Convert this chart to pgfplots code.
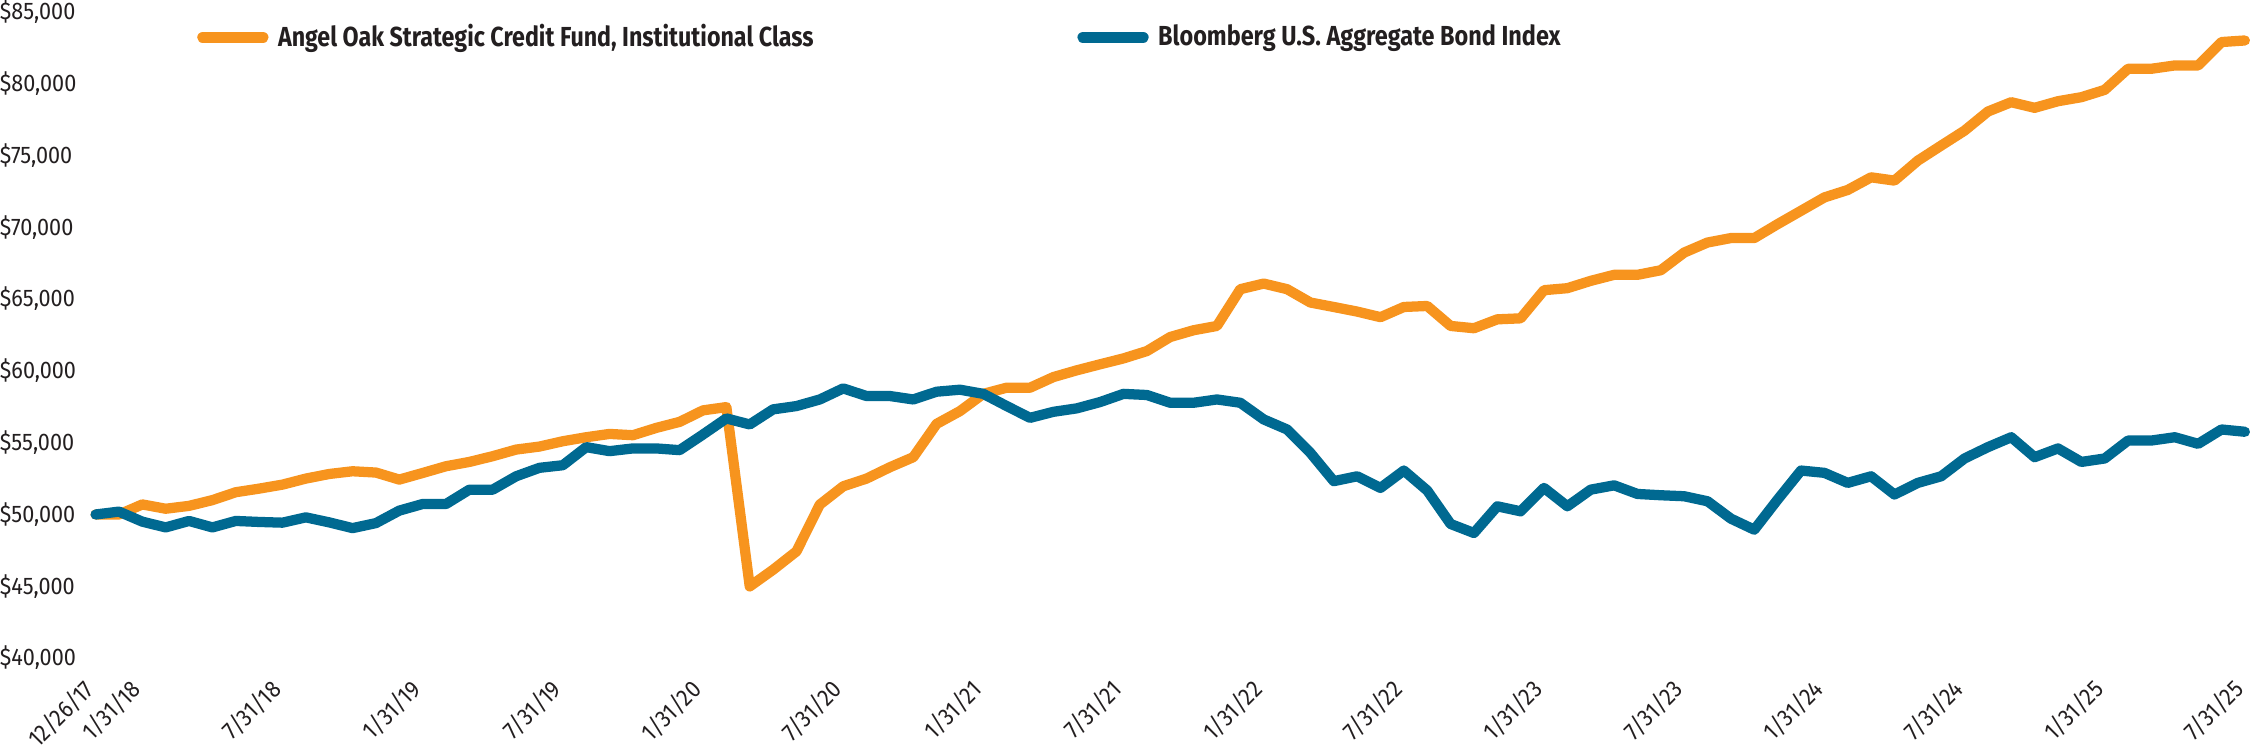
\documentclass[border=0pt]{standalone}
\usepackage{fontspec}
\setmainfont{Fira Sans}
\newfontfamily\tickfont{Fira Sans}[FakeStretch=0.9]
\usepackage{graphicx}
\usepackage{pgfplots}
\usepackage{pgfplotstable}
\pgfplotsset{compat=1.18}

\definecolor{aoorange}{RGB}{247,148,30}
\definecolor{bbblue}{RGB}{0,105,145}
\definecolor{txt}{RGB}{35,31,32}

% growth of $50,000: idx 0 = 12/26/17, 1 = 12/31/17, then month ends to 7/31/25
\pgfplotstableread{
idx fund agg
0 50000 50000
1 50000 50200
2 50700 49500
3 50400 49100
4 50600 49550
5 51000 49100
6 51550 49550
7 51800 49480
8 52080 49430
9 52500 49800
10 52820 49450
11 53010 49050
12 52920 49400
13 52430 50270
14 52890 50730
15 53360 50730
16 53660 51730
17 54060 51730
18 54520 52660
19 54730 53250
20 55100 53430
21 55380 54690
22 55610 54410
23 55520 54600
24 56030 54600
25 56450 54480
26 57250 55570
27 57480 56690
28 44990 56270
29 46150 57320
30 47430 57550
31 50690 58010
32 51960 58780
33 52500 58250
34 53290 58250
35 53990 58010
36 56310 58550
37 57200 58690
38 58400 58400
39 58830 57550
40 58830 56730
41 59570 57150
42 60040 57390
43 60460 57830
44 60870 58400
45 61380 58320
46 62360 57780
47 62830 57780
48 63130 58010
49 65690 57780
50 66080 56620
51 65690 55920
52 64760 54290
53 64450 52320
54 64130 52660
55 63740 51850
56 64450 53060
57 64520 51670
58 63130 49340
59 62970 48710
60 63590 50570
61 63660 50220
62 65620 51850
63 65760 50570
64 66270 51730
65 66690 52030
66 66690 51430
67 67010 51340
68 68240 51270
69 68940 50920
70 69250 49710
71 69250 48940
72 70220 51040
73 71150 53060
74 72080 52900
75 72600 52200
76 73480 52660
77 73250 51390
78 74640 52200
79 75690 52660
80 76730 53900
81 78060 54690
82 78710 55380
83 78320 53990
84 78780 54600
85 79060 53660
86 79570 53900
87 81040 55150
88 81040 55150
89 81270 55380
90 81270 54920
91 82900 55920
92 83010 55760
}\growth

\begin{document}
\begin{tikzpicture}
\begin{axis}[
    scale only axis,
    width=858.8pt, height=258.2pt,
    xmin=0, xmax=92,
    ymin=40000, ymax=85000,
    clip=false,
    axis lines=left,
    axis line style={draw=none},
    major tick length=0pt,
    xtick={0,2,8,14,20,26,32,38,44,50,56,62,68,74,80,86,92},
    xticklabels={12/26/17,1/31/18,7/31/18,1/31/19,7/31/19,1/31/20,7/31/20,1/31/21,7/31/21,1/31/22,7/31/22,1/31/23,7/31/23,1/31/24,7/31/24,1/31/25,7/31/25},
    xticklabel style={xshift=-5.5pt, yshift=-7.5pt, rotate=45, anchor=north east,
        inner sep=0pt, text=txt,
        font=\tickfont\fontsize{9.6}{11}\selectfont},
    ytick={40000,45000,...,85000},
    scaled y ticks=false,
    /pgf/number format/.cd, fixed, precision=0, 1000 sep={,}, assume math mode=true,
    /pgfplots/.cd,
    yticklabel={\$\pgfmathprintnumber{\tick}},
    yticklabel style={anchor=west, inner sep=0pt, xshift=-38.4pt, text=txt,
        font=\tickfont\fontsize{9.6}{11}\selectfont},
    legend columns=2,
    legend style={draw=none, fill=none, inner sep=0pt, outer sep=0pt,
        at={(0,1)}, anchor=west, xshift=40.6pt, yshift=-10.2pt,
        font=\bfseries\fontsize{11}{13}\selectfont, text=txt,
        nodes={inner sep=0pt},
        /tikz/every odd column/.append style={column sep=3.8pt},
        /tikz/every even column/.append style={column sep=105.4pt}},
    legend cell align=left,
    legend image code/.code={\draw[#1, line width=4.6pt, line cap=round] (0pt,0pt) -- (23.9pt,0pt);},
]
\addplot[color=aoorange, line width=4.1pt, line join=round, line cap=round] table[x=idx, y=fund] {\growth};
\addlegendentry{\resizebox{214pt}{\height}{Angel Oak Strategic Credit Fund, Institutional Class}}
\addplot[color=bbblue, line width=4.1pt, line join=round, line cap=round] table[x=idx, y=agg] {\growth};
\addlegendentry{\resizebox{160.8pt}{\height}{Bloomberg U.S. Aggregate Bond Index}}
\end{axis}
\end{tikzpicture}
\end{document}
